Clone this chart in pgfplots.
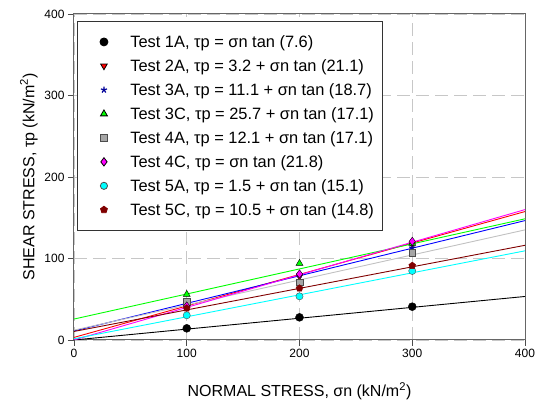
\documentclass[border=0pt]{standalone}
\usepackage{fontspec}
\setmainfont{Liberation Sans}
\usepackage{pgfplots}
\pgfplotsset{compat=1.18}
\definecolor{cRed}{RGB}{255,0,0}
\definecolor{cBlue}{RGB}{0,0,255}
\definecolor{cGreen}{RGB}{0,255,0}
\definecolor{cGray}{RGB}{192,192,192}
\definecolor{cMag}{RGB}{255,0,255}
\definecolor{cCyan}{RGB}{0,255,255}
\definecolor{cDark}{RGB}{128,0,0}
\pgfplotsset{
    pts/.style={only marks,
        legend image code/.code={\path (-20pt,0pt) (8pt,0pt); \draw[##1] plot coordinates {(0pt,0pt)};}},
}
\begin{document}
\begin{tikzpicture}
\begin{axis}[
    name=ax,
    scale only axis,
    width=451pt, height=326pt,
    xmin=0, xmax=400, ymin=0, ymax=400,
    xtick={0,100,...,400}, ytick={0,100,...,400},
    tick pos=left, tick align=outside,
    major tick length=6pt,
    every tick/.style={black!70, line width=0.8pt},
    axis line style={black!60, line width=1pt},
    grid=major,
    grid style={black!22, dash pattern=on 13pt off 6pt, line width=0.8pt},
    /pgf/number format/assume math mode=true,
    tick label style={font=\fontsize{12}{14}\selectfont},
    xlabel={NORMAL STRESS, σn (kN/m\textsuperscript{2})},
    ylabel={SHEAR STRESS, τp (kN/m\textsuperscript{2})},
    label style={font=\fontsize{16}{18}\selectfont},
    xlabel style={yshift=-18pt},
    legend cell align=left,
    legend style={at={(rel axis cs:0.007,0.979)}, anchor=north west,
        font=\fontsize{16.4}{18}\selectfont, draw=black!80, line width=0.8pt,
        row sep=6.6pt, column sep=16pt, inner xsep=6pt, inner ysep=12pt},
]
% fitted lines
\addplot[black, line width=0.9pt, forget plot] coordinates {(0,0) (400,53.4)};
\addplot[cRed, line width=0.9pt, forget plot] coordinates {(0,3.2) (400,157.6)};
\addplot[cBlue, line width=0.9pt, forget plot] coordinates {(0,11.1) (400,146.5)};
\addplot[cGreen, line width=0.9pt, forget plot] coordinates {(0,25.7) (400,148.7)};
\addplot[cGray, line width=0.9pt, forget plot] coordinates {(0,12.1) (400,135.1)};
\addplot[cMag, line width=0.9pt, forget plot] coordinates {(0,0) (400,160.0)};
\addplot[cCyan, line width=0.9pt, forget plot] coordinates {(0,1.5) (400,109.4)};
\addplot[cDark, line width=0.9pt, forget plot] coordinates {(0,10.5) (400,116.2)};
% measured points
\addplot[pts, mark=*, mark size=4pt, draw=black, fill=black]
    coordinates {(100,14.3) (200,27.8) (300,40.9)};
\addlegendentry{Test 1A, τp = σn tan (7.6)}
\addplot[pts, mark=triangle*, mark size=3.8pt, mark options={rotate=180, draw=black, fill=cRed}]
    coordinates {(100,40) (200,78) (300,117)};
\addlegendentry{Test 2A, τp = 3.2 + σn tan (21.1)}
\addplot[pts, mark=star, mark size=3.2pt, mark options={draw=blue!60!black, line width=1.2pt}]
    coordinates {(100,45) (200,80) (300,113)};
\addlegendentry{Test 3A, τp = 11.1 + σn tan (18.7)}
\addplot[pts, mark=triangle*, mark size=4pt, mark options={draw=black, fill=cGreen}]
    coordinates {(100,56) (200,94) (300,118.6)};
\addlegendentry{Test 3C, τp = 25.7 + σn tan (17.1)}
\addplot[pts, mark=square*, mark size=3.3pt, mark options={draw=black!70, fill=black!35}]
    coordinates {(100,47) (200,70.8) (300,107)};
\addlegendentry{Test 4A, τp = 12.1 + σn tan (17.1)}
\addplot[pts, mark=diamond*, mark size=4.2pt, mark options={draw=black, fill=cMag}]
    coordinates {(100,41.7) (200,81) (300,121)};
\addlegendentry{Test 4C, τp = σn tan (21.8)}
\addplot[pts, mark=*, mark size=3.6pt, mark options={draw=black!70, fill=cCyan}]
    coordinates {(100,30.3) (200,53.6) (300,84.7)};
\addlegendentry{Test 5A, τp = 1.5 + σn tan (15.1)}
\addplot[pts, mark=pentagon*, mark size=3.6pt, mark options={draw=cDark, fill=cDark}]
    coordinates {(100,38.9) (200,63.4) (300,91.2)};
\addlegendentry{Test 5C, τp = 10.5 + σn tan (14.8)}
\end{axis}
\pgfresetboundingbox
\path[use as bounding box] ([shift={(-74pt,-68pt)}]ax.south west) rectangle ([shift={(10pt,14pt)}]ax.north east);
\end{tikzpicture}
\end{document}
